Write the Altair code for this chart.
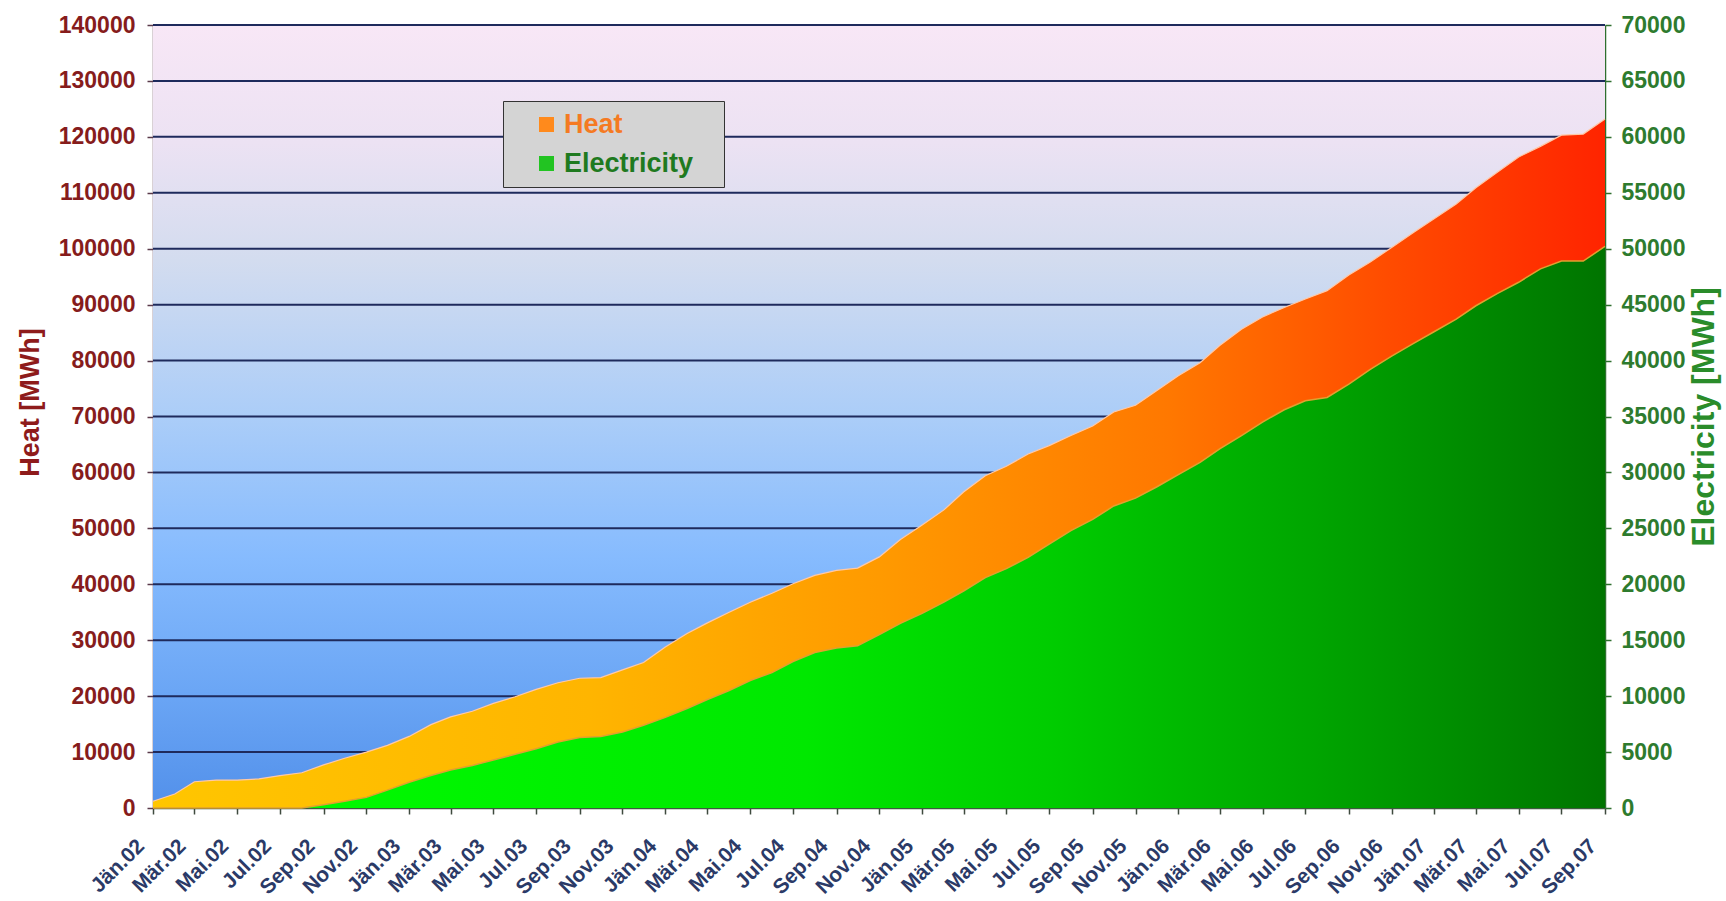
import altair as alt
import pandas as pd

FONT = "Liberation Sans"

# ---------------- data ----------------
MONTHS_DE = ["Jän", "Feb", "Mär", "Apr", "Mai", "Jun", "Jul", "Aug", "Sep", "Okt", "Nov", "Dez"]
DATES = pd.date_range("2002-01-01", "2007-09-01", freq="MS").strftime("%Y-%m-%d").tolist()

HEAT = [1200, 2500, 4700, 5000, 5000, 5200, 5800, 6300, 7700, 8900,
        10000, 11200, 12800, 14900, 16300, 17300, 18700, 19900, 21200, 22400,
        23200, 23300, 24700, 26000, 28800, 31200, 33100, 35000, 36800, 38400,
        40100, 41600, 42500, 42900, 44900, 48000, 50600, 53300, 56500, 59400,
        61100, 63300, 64800, 66600, 68300, 70800, 72000, 74600, 77300, 79600,
        82700, 85600, 87800, 89500, 91000, 92500, 95300, 97600, 100200, 102800,
        105400, 108000, 110900, 113700, 116400, 118300, 120300, 120500, 123200]

ELEC = [0, 0, 0, 0, 0, 0, 0, 0, 300, 600,
        950, 1600, 2300, 2900, 3400, 3800, 4300, 4800, 5300, 5900,
        6300, 6400, 6800, 7400, 8100, 8900, 9700, 10500, 11400, 12100,
        13100, 13900, 14300, 14500, 15500, 16500, 17400, 18400, 19400, 20600,
        21400, 22400, 23600, 24800, 25800, 27000, 27700, 28700, 29800, 30900,
        32100, 33300, 34500, 35600, 36400, 36700, 37900, 39200, 40400, 41500,
        42600, 43700, 44900, 46000, 47000, 48200, 48900, 48900, 50200]

HEAT_TICKS = list(range(0, 140001, 10000))
ELEC_TICKS = list(range(0, 70001, 5000))
GRID_VALUES = HEAT_TICKS[1:]
TICK_DATES = pd.date_range("2002-01-01", "2007-09-01", freq="2MS", tz="UTC")

SERIES = ["Heat", "Electricity"]
SERIES_SWATCH = ["#FF8A1C", "#22C422"]
SERIES_TEXT = ["#F57A22", "#1F7A1F"]

# ---------------- styling ----------------
W, H = 1452, 783

BG_GRADIENT = {
    "gradient": "linear", "x1": 0, "y1": 0, "x2": 0, "y2": 1,
    "stops": [
        {"offset": 0.0, "color": "#F8E7F6"},
        {"offset": 0.15, "color": "#ECE2F3"},
        {"offset": 0.3, "color": "#D3DCEF"},
        {"offset": 0.5, "color": "#ABCDF8"},
        {"offset": 0.68, "color": "#86BBFE"},
        {"offset": 0.85, "color": "#6BA6F5"},
        {"offset": 1.0, "color": "#5290EA"},
    ],
}
HEAT_GRADIENT = {
    "gradient": "linear", "x1": 0, "y1": 0, "x2": 1, "y2": 0,
    "stops": [
        {"offset": 0.0, "color": "#FFC600"},
        {"offset": 0.3, "color": "#FFB500"},
        {"offset": 0.5, "color": "#FF9A00"},
        {"offset": 0.7, "color": "#FF7800"},
        {"offset": 0.85, "color": "#FF4C00"},
        {"offset": 1.0, "color": "#FF2400"},
    ],
}
ELEC_GRADIENT = {
    "gradient": "linear", "x1": 0, "y1": 0, "x2": 1, "y2": 0,
    "stops": [
        {"offset": 0.0, "color": "#00FF00"},
        {"offset": 0.45, "color": "#00E800"},
        {"offset": 0.62, "color": "#00CC00"},
        {"offset": 0.8, "color": "#00A500"},
        {"offset": 1.0, "color": "#007400"},
    ],
}

df = pd.DataFrame({"date": DATES, "heat": HEAT, "elec": ELEC})
grid_df = pd.DataFrame({"v": GRID_VALUES})
bg_df = pd.DataFrame({"k": [0]})
leg_df = pd.DataFrame({"series": SERIES})

tick_ms = [int(d.timestamp() * 1000) for d in TICK_DATES]
month_arr = "[" + ",".join(f"'{m}'" for m in MONTHS_DE) + "]"

x_axis = alt.Axis(
    values=tick_ms,
    labelExpr=f"{month_arr}[utcmonth(datum.value)] + '.' + utcFormat(datum.value, '%y')",
    labelAngle=-45, labelOverlap=False, labelFlush=False,
    labelFont=FONT, labelFontSize=21, labelFontWeight="bold", labelColor="#2B3A67",
    labelPadding=21, labelOffset=-20, tickColor="#3F4A3F", tickSize=6, tickWidth=1.5,
    domainColor="#3F5A3F", domainWidth=1.5, grid=False, title=None,
)
x_enc = alt.X(
    "date:T",
    scale=alt.Scale(type="utc", domain=[tick_ms[0], tick_ms[-1]]),
    axis=x_axis,
)

heat_scale = alt.Scale(domain=[0, 140000])
heat_axis = alt.Axis(
    values=HEAT_TICKS, format="d", title="Heat [MWh]",
    titleFont=FONT, titleFontSize=27, titleFontWeight="bold", titleColor="#8E1B1B",
    titlePadding=14, titleY=377,
    labelFont=FONT, labelFontSize=23, labelFontWeight="bold", labelColor="#861C1C",
    labelPadding=12, tickColor="#5A3A4A", tickSize=6, tickWidth=1.5,
    domainColor="#6A4A5A", domainWidth=1.5, grid=False,
)
elec_axis = alt.Axis(
    orient="right", values=ELEC_TICKS, format="d", title="Electricity [MWh]",
    titleFont=FONT, titleFontSize=32, titleFontWeight="bold", titleColor="#2A8C2A",
    titleAngle=270, titleBaseline="top", titlePadding=4,
    labelFont=FONT, labelFontSize=23, labelFontWeight="bold", labelColor="#2E7B2E",
    labelPadding=10, tickColor="#2F6F2F", tickSize=6, tickWidth=1.5,
    domainColor="#2F6F2F", domainWidth=1.5, grid=False,
)

bg = alt.Chart(bg_df).mark_rect(fill=BG_GRADIENT).encode(
    x=alt.value(0), x2=alt.value(W), y=alt.value(0), y2=alt.value(H)
)

grid = alt.Chart(grid_df).mark_rule(color="#1E2A5C", strokeWidth=2).encode(
    y=alt.Y("v:Q", scale=heat_scale, axis=heat_axis),
    x=alt.value(0), x2=alt.value(W),
)

heat = alt.Chart(df).mark_area(
    fill=HEAT_GRADIENT, fillOpacity=1, interpolate="linear",
    line={"color": "#FFC9A8", "strokeWidth": 1.2},
).encode(
    x=x_enc,
    y=alt.Y("heat:Q", scale=heat_scale, axis=heat_axis),
)

legend = alt.Legend(
    title=None, orient="none", legendX=350, legendY=76,
    fillColor="#D4D4D4", strokeColor="#333333", padding=10,
    symbolType="square", symbolSize=225, symbolStrokeWidth=0, symbolOpacity=1,
    symbolOffset=20, labelOffset=4,
    labelFont=FONT, labelFontSize=27, labelFontWeight="bold",
    labelColor={"expr": f"datum.value == '{SERIES[0]}' ? '{SERIES_TEXT[0]}' : '{SERIES_TEXT[1]}'"},
    labelExpr="datum.label + '\u2800'",
    labelLimit=400, rowPadding=11,
)
leg = alt.Chart(leg_df).mark_square(opacity=0).encode(
    color=alt.Color("series:N", scale=alt.Scale(domain=SERIES, range=SERIES_SWATCH), legend=legend)
)

elec = alt.Chart(df).mark_area(
    fill=ELEC_GRADIENT, fillOpacity=1, interpolate="linear",
    line={"color": "#E0A030", "strokeWidth": 1.5},
).encode(
    x=x_enc,
    y=alt.Y("elec:Q", scale=alt.Scale(domain=[0, 70000]), axis=elec_axis),
)

inner = alt.layer(bg, grid, heat, leg)
chart = (
    alt.layer(inner, elec)
    .resolve_scale(y="independent")
    .properties(width=W, height=H, padding={"left": 16, "top": 14, "right": 4, "bottom": 4}, background="white")
    .configure_view(strokeWidth=0)
)

chart.save("out.html", embed_options={"renderer": "svg", "actions": False})
